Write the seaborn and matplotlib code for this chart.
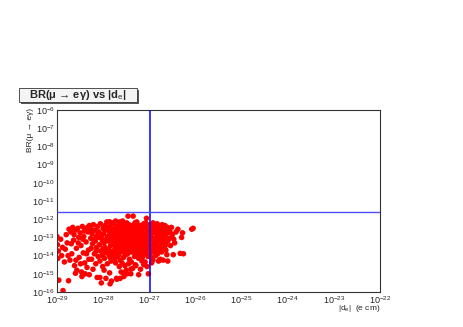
import numpy as np
import pandas as pd
import matplotlib
matplotlib.use("Agg")
import matplotlib.pyplot as plt
import seaborn as sns
from matplotlib.ticker import LogLocator, NullFormatter
from matplotlib.patches import Rectangle

# log10 of |d_e| (e cm) and log10 of BR(mu -> e gamma)
log_de = [
    -29.00, -28.99, -28.97, -28.98, -28.96, -28.87, -28.75, -28.92, -28.90, -28.88,
    -28.84, -28.80, -28.78, -28.74, -28.72, -28.70, -28.68, -28.66, -28.64, -28.62,
    -28.60, -28.58, -28.57, -28.55, -28.53, -28.52, -28.50, -28.48, -28.47, -28.45,
    -28.43, -28.42, -28.40, -28.38, -28.37, -28.35, -28.33, -28.32, -28.30, -28.30,
    -28.82, -28.76, -28.69, -28.63, -28.59, -28.54, -28.49, -28.44, -28.41, -28.36,
    -28.34, -28.31, -28.46, -28.39, -28.60,
    -28.28, -28.27, -28.26, -28.25, -28.24, -28.23, -28.22, -28.21,
    -28.19, -28.18, -28.17, -28.16, -28.15, -28.14, -28.13, -28.12, -28.11, -28.10,
    -28.09, -28.08, -28.07, -28.06, -28.05, -28.04, -28.03, -28.02, -28.01, -28.00, -28.00, -28.02,
    -27.99, -27.98, -27.97, -27.96, -27.95, -27.94, -27.93, -27.92, -27.91, -27.90, -27.96, -27.92, -27.98, -27.91,
    -27.89, -27.88, -27.87, -27.86, -27.85, -27.84, -27.83, -27.82, -27.81, -27.80, -27.88, -27.85, -27.83, -27.81, -27.86, -27.80,
    -27.79, -27.78, -27.77, -27.76, -27.75, -27.74, -27.73, -27.72, -27.71, -27.70, -27.79, -27.77, -27.75, -27.73, -27.72, -27.71, -27.78, -27.74,
    -27.69, -27.68, -27.67, -27.66, -27.65, -27.64, -27.63, -27.62, -27.61, -27.60, -27.69, -27.67, -27.65, -27.64, -27.62, -27.61, -27.68, -27.66,
    -27.59, -27.58, -27.57, -27.56, -27.55, -27.54, -27.53, -27.52, -27.51, -27.50, -27.59, -27.57, -27.56, -27.55, -27.54, -27.53, -27.52, -27.51, -27.58, -27.50,
    -27.49, -27.48, -27.47, -27.46, -27.45, -27.44, -27.43, -27.42, -27.41, -27.40, -27.49, -27.47, -27.46, -27.45, -27.44, -27.43, -27.42, -27.41, -27.48, -27.40,
    -27.39, -27.38, -27.37, -27.36, -27.35, -27.34, -27.33, -27.32, -27.31, -27.30, -27.39, -27.38, -27.37, -27.36, -27.35, -27.34, -27.33, -27.32, -27.31, -27.30,
    -27.29, -27.28, -27.27, -27.26, -27.25, -27.24, -27.23, -27.22, -27.21, -27.20, -27.29, -27.27, -27.26, -27.25, -27.24, -27.23, -27.22, -27.21,
    -27.19, -27.18, -27.17, -27.16, -27.15, -27.14, -27.13, -27.12, -27.11, -27.10, -27.19, -27.17, -27.16, -27.15, -27.14, -27.13, -27.12, -27.11,
    -27.09, -27.08, -27.07, -27.06, -27.05, -27.04, -27.03, -27.02, -27.01, -27.00, -27.09, -27.08, -27.07, -27.06, -27.05, -27.04, -27.03, -27.02,
    -26.99, -26.98, -26.97, -26.96, -26.95, -26.94, -26.93, -26.92, -26.91, -26.90, -26.99, -26.97, -26.96, -26.95, -26.94, -26.93, -26.92, -26.91,
    -26.89, -26.88, -26.87, -26.86, -26.85, -26.84, -26.83, -26.82, -26.81, -26.80, -26.89, -26.87, -26.86, -26.84, -26.82, -26.81,
    -26.79, -26.78, -26.77, -26.76, -26.75, -26.74, -26.73, -26.72, -26.71, -26.70, -26.78, -26.76, -26.74, -26.71,
    -26.69, -26.68, -26.67, -26.66, -26.65, -26.64, -26.63, -26.62, -26.61, -26.60,
    -26.58, -26.56, -26.54, -26.52, -26.50, -26.48, -26.45, -26.42,
    -26.33, -26.28, -26.30, -26.26, -26.08, -26.05, -26.38, -26.70, -26.60,
    -28.07, -27.85, -27.70, -27.63, -27.56, -27.50, -27.40,
    -27.95, -27.90, -27.87, -27.84, -27.76, -27.73, -27.70, -27.66, -27.63, -27.60,
    -27.57, -27.54, -27.51, -27.48, -27.45, -27.42, -27.39, -27.36, -27.33, -27.30,
    -27.27, -27.24, -27.21, -27.18, -27.15, -27.12, -27.09, -27.06, -27.03, -27.00,
    -26.97, -26.94, -26.91, -26.88, -26.85, -26.82, -26.79, -26.76, -26.73, -26.70,
    -26.67, -26.64, -26.60, -26.55, -26.47, -28.05, -28.12, -28.20, -28.25, -28.15,
    -27.97, -27.82, -27.68, -27.53, -27.44, -27.35, -27.26, -27.17, -27.08, -26.98,
]
log_br = [
    -12.95, -13.40, -13.75, -14.15, -15.35, -15.92, -15.38, -13.10, -14.00, -13.55,
    -14.35, -12.85, -13.30, -12.55, -14.25, -12.70, -13.90, -12.45, -13.15, -14.55,
    -12.60, -13.60, -14.80, -12.50, -13.00, -14.10, -12.75, -13.45, -14.90, -12.40,
    -13.85, -12.95, -14.40, -12.55, -13.25, -14.65, -12.70, -13.70, -15.05, -12.35,
    -13.65, -14.00, -13.35, -12.85, -14.25, -13.30, -14.45, -13.10, -12.65, -13.90,
    -12.45, -14.20, -15.15, -15.00, -14.97,
    -12.45, -13.05, -13.60, -14.20, -12.80, -13.35, -14.75, -12.30,
    -13.90, -12.60, -13.20, -14.45, -12.95, -13.55, -15.20, -12.40, -14.05, -13.00,
    -12.70, -13.40, -14.30, -12.25, -13.75, -15.50, -12.90, -13.15, -14.60, -12.50, -13.60, -14.00,
    -12.80, -13.30, -14.15, -12.35, -13.85, -15.25, -12.60, -13.05, -14.45, -12.95, -13.55, -12.15, -14.80, -13.70,
    -12.45, -13.20, -13.95, -12.14, -12.75, -13.45, -14.30, -15.40, -12.55, -13.10, -13.65, -14.10, -12.30, -13.80, -14.95, -12.90,
    -12.20, -13.35, -14.00, -12.65, -13.00, -13.60, -14.40, -12.40, -12.85, -13.25, -13.75, -12.95, -14.20, -12.10, -13.50, -15.25, -12.55, -13.90,
    -12.60, -13.15, -13.80, -12.30, -12.90, -13.45, -14.25, -12.70, -13.05, -13.65, -14.05, -12.45, -14.60, -12.15, -13.30, -14.90, -12.80, -13.95,
    -12.35, -12.95, -13.40, -14.10, -12.60, -13.20, -13.75, -12.25, -12.85, -13.55, -14.40, -12.70, -13.05, -15.15, -12.45, -14.55, -13.30, -13.95, -12.10, -12.55,
    -13.10, -13.70, -12.40, -11.83, -12.95, -13.45, -14.20, -12.65, -13.25, -14.75, -12.20, -13.90, -12.75, -14.45, -12.30, -13.00, -13.55, -12.50, -15.00, -13.35,
    -12.60, -13.15, -13.80, -12.35, -11.83, -12.85, -13.50, -14.05, -12.20, -13.00, -14.35, -12.45, -13.35, -14.70, -12.70, -13.65, -12.95, -12.40, -13.85, -14.50,
    -12.55, -13.20, -13.75, -12.30, -12.90, -13.40, -14.15, -12.65, -13.05, -13.60, -14.55, -12.15, -14.00, -13.25, -12.45, -15.05, -13.90, -12.80,
    -12.35, -13.00, -13.55, -14.30, -12.60, -13.20, -13.85, -12.25, -12.85, -13.40, -14.75, -12.70, -13.70, -14.10, -12.45, -13.05, -14.50, -13.60,
    -12.50, -13.10, -13.70, -11.95, -12.75, -13.30, -14.05, -12.40, -12.95, -13.50, -14.35, -12.20, -13.90, -13.20, -14.60, -12.60, -13.65, -15.00,
    -12.30, -12.90, -13.45, -14.10, -12.55, -13.15, -13.80, -12.20, -12.75, -13.35, -13.95, -12.45, -13.00, -14.40, -12.65, -13.55, -14.25, -13.10,
    -12.40, -13.05, -13.60, -14.00, -12.60, -13.25, -12.25, -12.85, -13.45, -14.30, -13.75, -12.70, -13.20, -12.45, -13.90, -12.95,
    -12.35, -12.90, -13.50, -14.20, -12.55, -13.10, -13.80, -12.30, -12.75, -13.35, -14.25, -13.65, -12.45, -13.00,
    -12.50, -13.15, -13.60, -12.35, -12.90, -13.40, -12.65, -13.95, -12.45, -13.20,
    -12.60, -13.05, -13.45, -12.45, -12.85, -13.95, -13.30, -12.70,
    -13.88, -12.75, -13.00, -13.90, -12.55, -12.50, -12.55, -14.25, -14.30,
    -15.20, -15.55, -15.30, -15.25, -14.95, -14.80, -15.00,
    -13.20, -12.55, -12.90, -13.90, -13.15, -12.75, -13.55, -12.60, -13.20, -12.40,
    -13.80, -12.80, -13.40, -12.60, -13.20, -13.80, -12.85, -13.55, -12.30, -13.25,
    -12.70, -13.75, -12.35, -13.30, -12.90, -13.55, -12.85, -13.45, -12.75, -13.15,
    -13.70, -12.35, -13.60, -12.75, -13.40, -13.15, -13.70, -12.70, -13.25, -12.55,
    -12.95, -13.70, -12.75, -12.70, -13.10, -13.00, -12.70, -13.10, -12.60, -13.75,
    -12.55, -12.70, -13.40, -12.95, -12.85, -13.10, -13.50, -12.95, -13.35, -12.60,
]
de_limit = 1.05e-27
br_limit = 2.4e-12

df = pd.DataFrame({"de": 10.0 ** np.array(log_de), "br": 10.0 ** np.array(log_br)})

sns.set_style("white")
plt.rcParams["font.family"] = ["Liberation Sans", "DejaVu Sans"]
plt.rcParams["mathtext.fontset"] = "custom"
plt.rcParams["mathtext.rm"] = "Liberation Sans"
plt.rcParams["mathtext.it"] = "Liberation Sans:italic"
plt.rcParams["mathtext.bf"] = "Liberation Sans:bold"

fig = plt.figure(figsize=(4.63, 3.27), dpi=100)
ax = fig.add_axes([57 / 463, 35 / 327, 323 / 463, 182 / 327])

sns.scatterplot(data=df, x="de", y="br", color="red", s=16, linewidth=0,
                edgecolor="none", ax=ax, zorder=2)
ax.axvline(de_limit, color="#0000ff", lw=1.1, zorder=3)
ax.axhline(br_limit, color="#4d4dff", lw=1.0, zorder=3)

ax.set_xscale("log")
ax.set_yscale("log")
ax.set_xlim(1e-29, 1e-22)
ax.set_ylim(1e-16, 1e-6)
ax.set_xlabel("")
ax.set_ylabel("")

ax.xaxis.set_major_locator(LogLocator(base=10, numticks=20))
ax.yaxis.set_major_locator(LogLocator(base=10, numticks=20))
ax.xaxis.set_minor_locator(LogLocator(base=10, subs=np.arange(2, 10), numticks=20))
ax.yaxis.set_minor_locator(LogLocator(base=10, subs=np.arange(2, 10), numticks=20))
ax.xaxis.set_minor_formatter(NullFormatter())
ax.yaxis.set_minor_formatter(NullFormatter())

ax.tick_params(axis="both", which="both", direction="in", labelsize=6.5,
               top=False, right=False, color="#333333", width=0.6)
ax.tick_params(axis="x", which="major", length=4, pad=2)
ax.tick_params(axis="x", which="minor", length=2)
ax.tick_params(axis="y", which="major", length=7, pad=1.5)
ax.tick_params(axis="y", which="minor", length=4, color="#777777")

for side in ["left", "bottom", "top", "right"]:
    ax.spines[side].set_color("#333333")
    ax.spines[side].set_linewidth(0.8)

# title box with shadow, ROOT style
fig.patches.append(Rectangle((21 / 463, 1 - 104 / 327), 118 / 463, 14 / 327,
                             transform=fig.transFigure, facecolor="#555555",
                             edgecolor="none", zorder=1))
fig.patches.append(Rectangle((19 / 463, 1 - 102 / 327), 118 / 463, 14 / 327,
                             transform=fig.transFigure, facecolor="#f4f4f4",
                             edgecolor="#333333", linewidth=0.6, zorder=2))
fig.text(78 / 463, 1 - 95 / 327, "BR(μ → eγ) vs |d$_{\\rm e}$|",
         ha="center", va="center", fontsize=8, fontweight="bold", zorder=3)

fig.text(30 / 463, 1 - 108 / 327, "BR(μ → eγ)",
         rotation=90, ha="center", va="top", fontsize=6)
fig.text(380 / 463, 1 - 309 / 327, "|d$_{\\rm e}$|  (e cm)",
         ha="right", va="center", fontsize=6)

fig.savefig("out.png", dpi=100)
